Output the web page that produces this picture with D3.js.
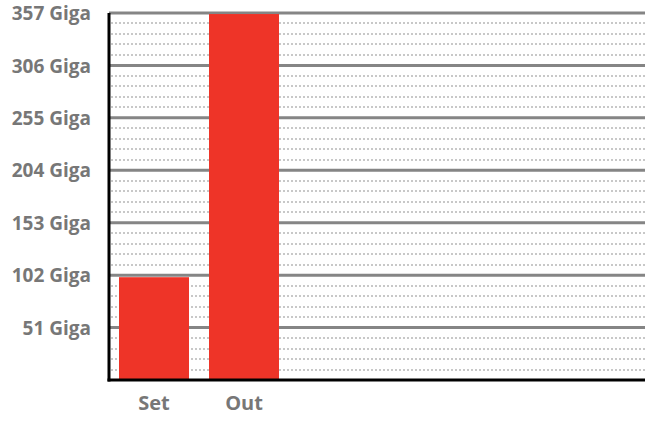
<!DOCTYPE html>
<html>
<head>
<meta charset="utf-8">
<script src="https://cdn.jsdelivr.net/npm/d3@7"></script>
<style>
  body { margin: 0; background: #fff; }
  text { font-family: "Open Sans", sans-serif; font-weight: bold; fill: #777; }
</style>
</head>
<body>
<svg id="chart"></svg>
<script>
var categories = ["Set", "Out"];
var values = [100, 356];
var tickValues = [51, 102, 153, 204, 255, 306, 357];
var tickLabels = ["51 Giga", "102 Giga", "153 Giga", "204 Giga", "255 Giga", "306 Giga", "357 Giga"];

var svgWidth = 645, svgHeight = 424;
var plotLeft = 109, plotRight = 645, plotTop = 13, plotBottom = 380;

var svg = d3.select("#chart")
    .attr("width", svgWidth)
    .attr("height", svgHeight);

var y = d3.scaleLinear().domain([0, 357]).range([plotBottom, plotTop]);

var x = d3.scaleBand()
    .domain(categories)
    .range([plotLeft, plotLeft + 180])
    .paddingInner(2/9)
    .paddingOuter(1/9);

// minor dotted lines, 4 between each major tick
var minor = [];
for (let i = 1; i < 35; i++) {
  if (i % 5 != 0) minor.push(i * 51 / 5);
}

svg.append("g").selectAll("line")
    .data(minor)
    .enter()
    .append("line")
    .attr("x1", plotLeft + 2)
    .attr("x2", plotRight)
    .attr("y1", d => Math.round(y(d)))
    .attr("y2", d => Math.round(y(d)))
    .attr("stroke", "#c8c8c8")
    .attr("stroke-width", 2)
    .attr("stroke-dasharray", "2,2");

// major lines
svg.append("g").selectAll("line")
    .data(tickValues)
    .enter()
    .append("line")
    .attr("x1", plotLeft)
    .attr("x2", plotRight)
    .attr("y1", d => y(d))
    .attr("y2", d => y(d))
    .attr("stroke", "#858585")
    .attr("stroke-width", 3);

// bars
svg.append("g").selectAll("rect")
    .data(values)
    .enter()
    .append("rect")
    .attr("x", (d, i) => x(categories[i]))
    .attr("y", d => y(d))
    .attr("width", x.bandwidth())
    .attr("height", d => y(0) - y(d))
    .attr("fill", "#ee3428");

// y axis labels
var yAxis = d3.axisLeft(y)
    .tickValues(tickValues)
    .tickFormat((d, i) => tickLabels[i])
    .tickSize(0)
    .tickPadding(18);

var gy = svg.append("g")
    .attr("transform", "translate(" + plotLeft + ",0)")
    .call(yAxis);
gy.select(".domain").remove();
gy.selectAll("text")
    .attr("font-size", 19)
    .attr("dy", "0.35em")
    .attr("fill", "#777")
    .style("font-family", "'Open Sans', sans-serif");

// x axis labels
var xAxis = d3.axisBottom(x).tickSize(0).tickPadding(16);
var gx = svg.append("g")
    .attr("transform", "translate(0," + plotBottom + ")")
    .call(xAxis);
gx.select(".domain").remove();
gx.selectAll("text")
    .attr("font-size", 20)
    .attr("fill", "#777")
    .style("font-family", "'Open Sans', sans-serif");

// black axis lines
svg.append("line")
    .attr("x1", plotLeft).attr("x2", plotLeft)
    .attr("y1", plotTop).attr("y2", plotBottom + 1.5)
    .attr("stroke", "#000").attr("stroke-width", 3);
svg.append("line")
    .attr("x1", plotLeft - 1.5).attr("x2", plotRight)
    .attr("y1", plotBottom).attr("y2", plotBottom)
    .attr("stroke", "#000").attr("stroke-width", 3);
</script>
</body>
</html>
